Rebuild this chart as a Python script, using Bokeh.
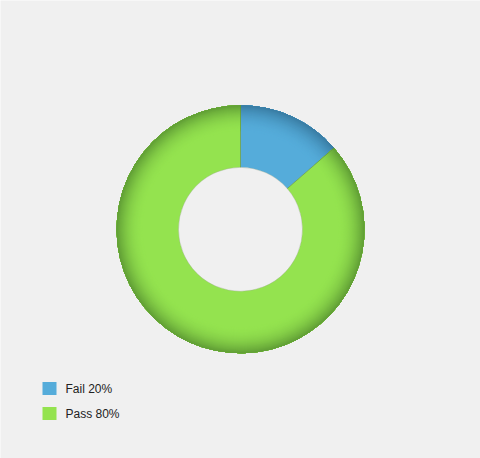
import math
from bokeh.plotting import figure
from bokeh.models import Range1d, ColumnDataSource
from bokeh.core.properties import value
from bokeh.embed import file_html
from bokeh.resources import INLINE

# data
categories = ["Fail", "Pass"]
shares = [13.6, 86.4]          # slice sizes as drawn
legend_labels = ["Fail 20%", "Pass 80%"]
light_colors = ["#55ACDA", "#94E34F"]
dark_colors = ["#3A7EA5", "#62A036"]

W, H = 480, 458
p = figure(width=W, height=H, output_backend="svg", toolbar_location=None,
           x_range=Range1d(0, W), y_range=Range1d(0, H),
           x_axis_type=None, y_axis_type=None, min_border=0)
p.grid.visible = False
p.outline_line_color = None
p.background_fill_color = "#F0F0F0"
p.border_fill_color = "#F0F0F0"

cx, cy = 240, H - 228.8
r_in, r_out = 62, 124


def mix(c1, c2, t):
    a = [int(c1[i:i + 2], 16) for i in (1, 3, 5)]
    b = [int(c2[i:i + 2], 16) for i in (1, 3, 5)]
    return "#%02x%02x%02x" % tuple(round(a[k] + (b[k] - a[k]) * t) for k in range(3))


total = sum(shares)
starts, ends = [], []
acc = 0.0
for s in shares:
    starts.append(math.pi / 2 - 2 * math.pi * acc / total)
    acc += s
    ends.append(math.pi / 2 - 2 * math.pi * acc / total)

rows = dict(x=[], y=[], ir=[], orr=[], sa=[], ea=[], c=[])
band = 26
steps = 26
for i in range(len(shares)):
    rows["x"].append(cx); rows["y"].append(cy)
    rows["ir"].append(r_in); rows["orr"].append(r_out)
    rows["sa"].append(starts[i]); rows["ea"].append(ends[i])
    rows["c"].append(light_colors[i])
    for k in range(steps):
        r0 = r_out - band + band * k / steps
        t = ((k + 1) / steps) ** 2.0
        rows["x"].append(cx); rows["y"].append(cy)
        rows["ir"].append(r0); rows["orr"].append(r_out)
        rows["sa"].append(starts[i]); rows["ea"].append(ends[i])
        rows["c"].append(mix(light_colors[i], dark_colors[i], t))

src = ColumnDataSource(rows)
p.annular_wedge(x="x", y="y", inner_radius="ir", outer_radius="orr",
                start_angle="sa", end_angle="ea", direction="clock",
                fill_color="c", line_color=None, source=src)

# faint inner edge
p.circle(x=[cx], y=[cy], radius=r_in, fill_color=None, line_color="#9AA890",
         line_width=0.6, line_alpha=0.6)

# slice separator lines
for i in range(len(shares)):
    a = starts[i]
    p.segment(x0=[cx + r_in * math.cos(a)], y0=[cy + r_in * math.sin(a)],
              x1=[cx + r_out * math.cos(a)], y1=[cy + r_out * math.sin(a)],
              line_color="#5B8A3E", line_width=0.8, line_alpha=0.8)

# legend
leg_y = [H - 388, H - 413]
p.rect(x=[49, 49], y=leg_y, width=14, height=13, fill_color=light_colors,
       line_color=None)
p.text(x=[65, 65], y=leg_y, text=legend_labels, text_baseline="middle",
       text_align="left", text_font=value("Liberation Sans"),
       text_font_size="12px", text_color="#222222")

open("out.html", "w").write(file_html(p, INLINE))
